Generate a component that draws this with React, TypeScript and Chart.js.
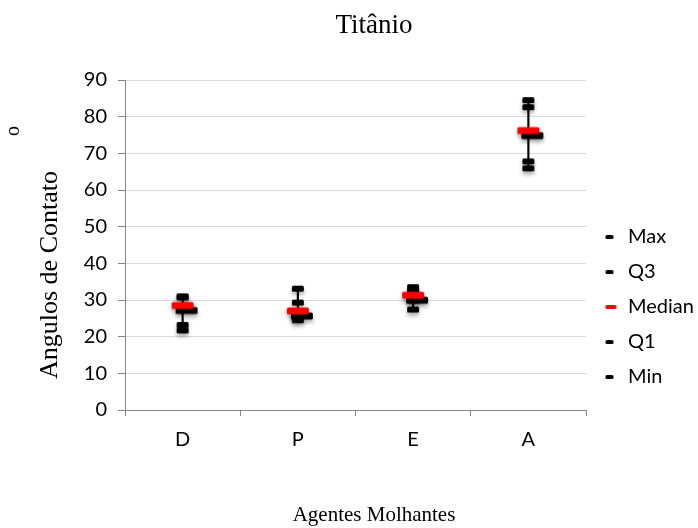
import React, { useEffect, useRef } from 'react';
import { Chart, registerables } from 'chart.js';

Chart.register(...registerables);

// ---- data ----
const categories = ['D', 'P', 'E', 'A'];
const maxValues = [31.0, 33.1, 33.5, 84.5];
const q3Values = [30.7, 29.3, 32.5, 82.6];
const medianValues = [28.5, 27.0, 31.3, 76.2];
const q1Values = [23.2, 25.6, 29.9, 67.8];
const minValues = [21.7, 24.5, 27.4, 65.9];
const seriesNames = ['Max', 'Q3', 'Median', 'Q1', 'Min'];
const yMin = 0;
const yMax = 90;
const yStep = 10;
const titleText = 'Titânio';
const xTitleText = 'Agentes Molhantes';
const yTitleText = 'Angulos de Contato';
const yTitleMark = 'o';

function makeDash(w: number, h: number, color: string, dx: number, dy: number, shadow: boolean) {
  const pad = shadow ? 7 : 1;
  let cw = Math.ceil((Math.abs(dx) + w / 2 + pad) * 2);
  let ch = Math.ceil((Math.abs(dy) + h / 2 + pad) * 2);
  if (cw % 2) cw += 1;
  if (ch % 2) ch += 1;
  const c = document.createElement('canvas');
  c.width = cw;
  c.height = ch;
  const ctx = c.getContext('2d')!;
  const cx = cw / 2 + dx;
  const cy = ch / 2 + dy;
  if (shadow) {
    ctx.shadowColor = 'rgba(0,0,0,0.35)';
    ctx.shadowBlur = 4;
    ctx.shadowOffsetY = 3;
  }
  ctx.fillStyle = color;
  ctx.beginPath();
  if ((ctx as any).roundRect) (ctx as any).roundRect(cx - w / 2, cy - h / 2, w, h, 1.5);
  else ctx.rect(cx - w / 2, cy - h / 2, w, h);
  ctx.fill();
  return c;
}

const yTitlePlugin = {
  id: 'yTitleDraw',
  afterDraw(chart: any) {
    const { ctx, chartArea } = chart;
    const cx = chartArea.left - 75;
    const cy = (chartArea.top + chartArea.bottom) / 2 + 30;
    ctx.save();
    ctx.translate(cx, cy);
    ctx.rotate(-Math.PI / 2);
    ctx.fillStyle = '#000';
    ctx.textAlign = 'center';
    ctx.textBaseline = 'middle';
    ctx.font = '26px "Liberation Serif"';
    ctx.fillText(yTitleText, 0, 0);
    ctx.font = '20px "Liberation Serif"';
    ctx.fillText(yTitleMark, 144, -36);
    ctx.restore();
  },
};

export default function App() {
  const ref = useRef<HTMLCanvasElement>(null);

  useEffect(() => {
    document.body.style.margin = '0';
    const blackDash = makeDash(12, 6, '#000', 0, 0, true);
    const redDash = makeDash(22, 7, '#ff0000', 0, 0, true);
    const shadowDash = makeDash(22, 7, '#000', 4, 5, true);
    const legendBlack = makeDash(8, 4, '#000', 0, 0, false);
    const legendRed = makeDash(11, 4, '#ff0000', 1.5, 0, false);

    const pointDs = (label: string, data: number[], style: any, order: number) => ({
      type: 'line',
      label,
      data,
      showLine: false,
      pointStyle: style,
      pointRadius: 3,
      pointHoverRadius: 3,
      borderColor: '#000',
      backgroundColor: '#000',
      order,
    });

    const datasets: any[] = [
      {
        type: 'bar',
        label: 'range',
        data: categories.map((_, i) => [minValues[i], maxValues[i]]),
        backgroundColor: '#000',
        barThickness: 1.5,
        order: 10,
      },
      pointDs('Max', maxValues, blackDash, 3),
      pointDs('Q3', q3Values, blackDash, 3),
      pointDs('Median-shadow', medianValues, shadowDash, 4),
      pointDs('Median', medianValues, redDash, 1),
      pointDs('Q1', q1Values, blackDash, 3),
      pointDs('Min', minValues, blackDash, 3),
    ];

    const tickFont = { family: 'Lato', size: 20 };

    const chart = new Chart(ref.current!, {
      type: 'bar',
      data: { labels: categories, datasets },
      plugins: [yTitlePlugin],
      options: {
        responsive: false,
        animation: false,
        devicePixelRatio: 1,
        events: [],
        layout: { padding: { left: 50, right: 0, top: 0, bottom: 0 } },
        scales: {
          x: {
            type: 'category',
            offset: true,
            grid: {
              offset: true,
              drawOnChartArea: false,
              drawTicks: true,
              tickLength: 6,
              color: '#868686',
            },
            border: { display: true, color: '#868686', width: 1 },
            ticks: { font: tickFont, color: '#000', padding: 12 },
            afterFit: (scale: any) => {
              scale.height = 92.8;
            },
          },
          y: {
            min: yMin,
            max: yMax,
            ticks: { stepSize: yStep, font: tickFont, color: '#000', padding: 11 },
            grid: { color: '#d9d9d9', tickColor: '#868686', tickLength: 7 },
            border: { display: true, color: '#868686', width: 1 },
            afterFit: (scale: any) => {
              scale.width = 75;
            },
          },
        },
        plugins: {
          tooltip: { enabled: false },
          title: {
            display: true,
            text: titleText,
            color: '#000',
            font: { family: 'Liberation Serif', size: 27, weight: 'normal' },
            padding: { top: 10, bottom: 37.6 },
          },
          subtitle: {
            display: true,
            position: 'bottom',
            text: xTitleText,
            color: '#000',
            font: { family: 'Liberation Serif', size: 21, weight: 'normal' },
            padding: { top: 0, bottom: 0 },
          },
          legend: {
            display: true,
            position: 'right',
            align: 'start',
            fullSize: false,
            maxWidth: 112,
            title: {
              display: true,
              text: ' ',
              font: { size: 12 },
              padding: { top: 117.6, bottom: 0 },
            },
            labels: {
              usePointStyle: true,
              pointStyleWidth: 17,
              padding: 15,
              color: '#000',
              font: { family: 'Lato', size: 20 },
              generateLabels: () =>
                seriesNames.map((name, i) => ({
                  text: name,
                  pointStyle: name === 'Median' ? legendRed : legendBlack,
                  fillStyle: name === 'Median' ? '#ff0000' : '#000',
                  strokeStyle: name === 'Median' ? '#ff0000' : '#000',
                  lineWidth: 0,
                  hidden: false,
                  datasetIndex: i,
                  fontColor: '#000',
                })),
            },
          },
        },
      } as any,
    } as any);

    return () => chart.destroy();
  }, []);

  return (
    <div style={{ position: 'fixed', left: 0, top: 0, width: 698, height: 528, background: '#fff' }}>
      <canvas ref={ref} width={698} height={528} style={{ display: 'block' }} />
    </div>
  );
}
